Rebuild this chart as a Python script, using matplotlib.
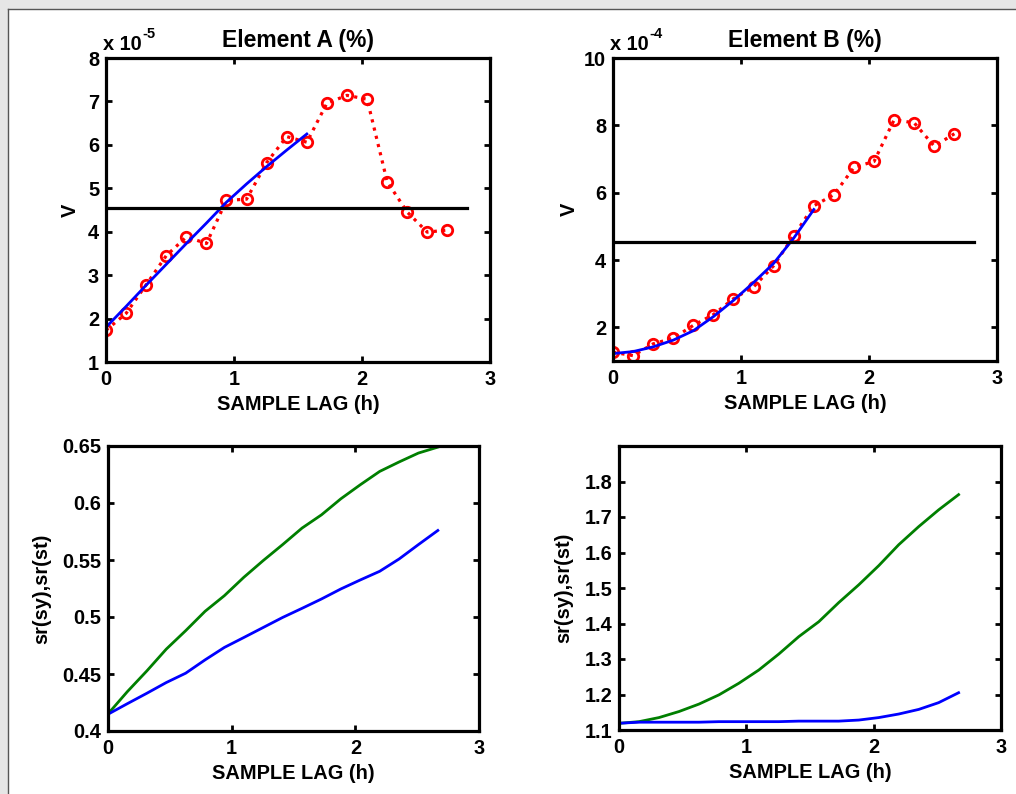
import numpy as np
import matplotlib
matplotlib.use("Agg")
import matplotlib.pyplot as plt
from matplotlib.patches import Rectangle
from matplotlib.lines import Line2D

plt.rcParams['font.family'] = ['Liberation Sans', 'DejaVu Sans']
plt.rcParams['font.weight'] = 'bold'

# ---- data ----
lags = [0.0, 0.157, 0.314, 0.471, 0.628, 0.785, 0.941, 1.098, 1.255,
        1.412, 1.569, 1.726, 1.883, 2.040, 2.197, 2.354, 2.510, 2.667]

# Element A variogram (units of 1e-5)
va_obs = [1.73, 2.12, 2.78, 3.45, 3.88, 3.73, 4.72, 4.75, 5.59,
          6.19, 6.06, 6.96, 7.14, 7.05, 5.15, 4.45, 3.99, 4.04]
va_fit = [1.80, 2.28, 2.77, 3.25, 3.73, 4.20, 4.68, 5.10, 5.50, 5.88, 6.25]
va_sill = 4.55

# Element B variogram (units of 1e-4)
vb_obs = [1.26, 1.16, 1.51, 1.68, 2.06, 2.38, 2.85, 3.20, 3.83,
          4.72, 5.61, 5.94, 6.75, 6.93, 8.17, 8.07, 7.38, 7.75]
vb_fit = [1.22, 1.28, 1.42, 1.62, 1.90, 2.32, 2.80, 3.33, 3.90, 4.65, 5.50]
vb_sill = 4.53
sill_end = 2.82

# sr(sy), sr(st) for Element A
sa_green = [0.415, 0.4346, 0.4527, 0.4718, 0.488, 0.505, 0.5187, 0.5348, 0.5495,
            0.5635, 0.578, 0.5896, 0.6037, 0.616, 0.6277, 0.636, 0.6438, 0.649]
sa_blue = [0.4147, 0.424, 0.4331, 0.4425, 0.4507, 0.4624, 0.4733, 0.482, 0.4908,
           0.4996, 0.5076, 0.5158, 0.5246, 0.5325, 0.5401, 0.5509, 0.5635, 0.5759]

# sr(sy), sr(st) for Element B
sb_green = [1.1188, 1.1235, 1.135, 1.152, 1.173, 1.199, 1.2316, 1.269, 1.314,
            1.363, 1.405, 1.459, 1.509, 1.563, 1.622, 1.673, 1.720, 1.763]
sb_blue = [1.119, 1.122, 1.122, 1.122, 1.122, 1.1235, 1.1235, 1.1235, 1.1235,
           1.125, 1.125, 1.125, 1.128, 1.135, 1.145, 1.158, 1.177, 1.205]

xticks = [0, 1, 2, 3]
xticklabels = ['0', '1', '2', '3']

RED = '#ff0000'
BLUE = '#0000ff'
GREEN = '#007f00'

fig = plt.figure(figsize=(10.16, 7.94), dpi=100)
fig.patch.set_facecolor('white')

# window-like gray border at top and left
fig.patches.append(Rectangle((0, 1 - 8.5 / 794), 1, 8.5 / 794, transform=fig.transFigure,
                             facecolor='#e6e6e6', edgecolor='none', zorder=-1))
fig.patches.append(Rectangle((0, 0), 7.5 / 1016, 1, transform=fig.transFigure,
                             facecolor='#e6e6e6', edgecolor='none', zorder=-1))
fig.lines.append(Line2D([7.5 / 1016, 1], [1 - 9 / 794, 1 - 9 / 794], transform=fig.transFigure,
                        color='#555555', lw=1.0))
fig.lines.append(Line2D([8 / 1016, 8 / 1016], [0, 1 - 9 / 794], transform=fig.transFigure,
                        color='#555555', lw=1.0))

TICK_FS = 14.4
LABEL_FS = 14.4
TITLE_FS = 16.5


def style(ax):
    for s in ax.spines.values():
        s.set_linewidth(2.3)
    ax.tick_params(direction='in', length=4, width=2, top=True, right=True,
                   labelsize=TICK_FS)
    ax.tick_params(axis='x', pad=6)
    ax.tick_params(axis='y', pad=5)
    for lab in ax.get_xticklabels() + ax.get_yticklabels():
        lab.set_fontweight('bold')


def exponent(ax, exp):
    t = ax.text(-0.008, 1.012, 'x 10', transform=ax.transAxes, ha='left', va='bottom',
                fontsize=TICK_FS, fontweight='bold')
    fig.canvas.draw()
    bb = t.get_window_extent()
    x_px = bb.x1 + 1
    y_px = bb.y1 - 6
    ax.text(x_px / fig.dpi / fig.get_figwidth(), y_px / fig.dpi / fig.get_figheight(),
            exp, transform=fig.transFigure, ha='left', va='bottom',
            fontsize=10.5, fontweight='bold')


# ---- top-left ----
ax1 = fig.add_axes([106 / 1016, 1 - 362 / 794, 384 / 1016, 304 / 794])
ax1.plot(lags, va_obs, linestyle=':', color=RED, lw=2.3, marker='o', markersize=7.5,
         markerfacecolor='none', markeredgewidth=2.0, markeredgecolor=RED)
ax1.plot(lags[:len(va_fit)], va_fit, color=BLUE, lw=2.0)
ax1.plot([0, sill_end], [va_sill, va_sill], color='black', lw=2.3)
ax1.set_xlim(0, 3)
ax1.set_ylim(1, 8)
ax1.set_xticks(xticks)
ax1.set_xticklabels(xticklabels)
ax1.set_yticks([1, 2, 3, 4, 5, 6, 7, 8])
ax1.set_yticklabels(['1', '2', '3', '4', '5', '6', '7', '8'])
ax1.set_xlabel('SAMPLE LAG (h)', fontsize=LABEL_FS, fontweight='bold', labelpad=4)
ax1.set_ylabel('V', fontsize=LABEL_FS, fontweight='bold', labelpad=6)
ax1.set_title('Element A (%)', fontsize=TITLE_FS, fontweight='bold', pad=8)
style(ax1)

# ---- top-right ----
ax2 = fig.add_axes([613 / 1016, 1 - 361 / 794, 384 / 1016, 303 / 794])
ax2.plot(lags, vb_obs, linestyle=':', color=RED, lw=2.3, marker='o', markersize=7.5,
         markerfacecolor='none', markeredgewidth=2.0, markeredgecolor=RED)
ax2.plot(lags[:len(vb_fit)], vb_fit, color=BLUE, lw=2.0)
ax2.plot([0, sill_end], [vb_sill, vb_sill], color='black', lw=2.3)
ax2.set_xlim(0, 3)
ax2.set_ylim(1, 10)
ax2.set_xticks(xticks)
ax2.set_xticklabels(xticklabels)
ax2.set_yticks([2, 4, 6, 8, 10])
ax2.set_yticklabels(['2', '4', '6', '8', '10'])
ax2.set_xlabel('SAMPLE LAG (h)', fontsize=LABEL_FS, fontweight='bold', labelpad=4)
ax2.set_ylabel('V', fontsize=LABEL_FS, fontweight='bold', labelpad=4)
ax2.set_title('Element B (%)', fontsize=TITLE_FS, fontweight='bold', pad=8)
style(ax2)

# ---- bottom-left ----
ax3 = fig.add_axes([108 / 1016, 1 - 731 / 794, 371 / 1016, 285 / 794])
ax3.plot(lags, sa_green, color=GREEN, lw=2.0)
ax3.plot(lags, sa_blue, color=BLUE, lw=2.0)
ax3.set_xlim(0, 3)
ax3.set_ylim(0.4, 0.65)
ax3.set_xticks(xticks)
ax3.set_xticklabels(xticklabels)
ax3.set_yticks([0.4, 0.45, 0.5, 0.55, 0.6, 0.65])
ax3.set_yticklabels(['0.4', '0.45', '0.5', '0.55', '0.6', '0.65'])
ax3.set_xlabel('SAMPLE LAG (h)', fontsize=LABEL_FS, fontweight='bold', labelpad=4)
ax3.set_ylabel('sr(sy),sr(st)', fontsize=LABEL_FS, fontweight='bold', labelpad=8)
style(ax3)

# ---- bottom-right ----
ax4 = fig.add_axes([619 / 1016, 1 - 730 / 794, 382 / 1016, 284 / 794])
ax4.plot(lags, sb_green, color=GREEN, lw=2.0)
ax4.plot(lags, sb_blue, color=BLUE, lw=2.0)
ax4.set_xlim(0, 3)
ax4.set_ylim(1.1, 1.9)
ax4.set_xticks(xticks)
ax4.set_xticklabels(xticklabels)
ax4.set_yticks([1.1, 1.2, 1.3, 1.4, 1.5, 1.6, 1.7, 1.8])
ax4.set_yticklabels(['1.1', '1.2', '1.3', '1.4', '1.5', '1.6', '1.7', '1.8'])
ax4.set_xlabel('SAMPLE LAG (h)', fontsize=LABEL_FS, fontweight='bold', labelpad=4)
ax4.set_ylabel('sr(sy),sr(st)', fontsize=LABEL_FS, fontweight='bold', labelpad=8)
style(ax4)

exponent(ax1, '-5')
exponent(ax2, '-4')

fig.savefig('out.png', dpi=100)
